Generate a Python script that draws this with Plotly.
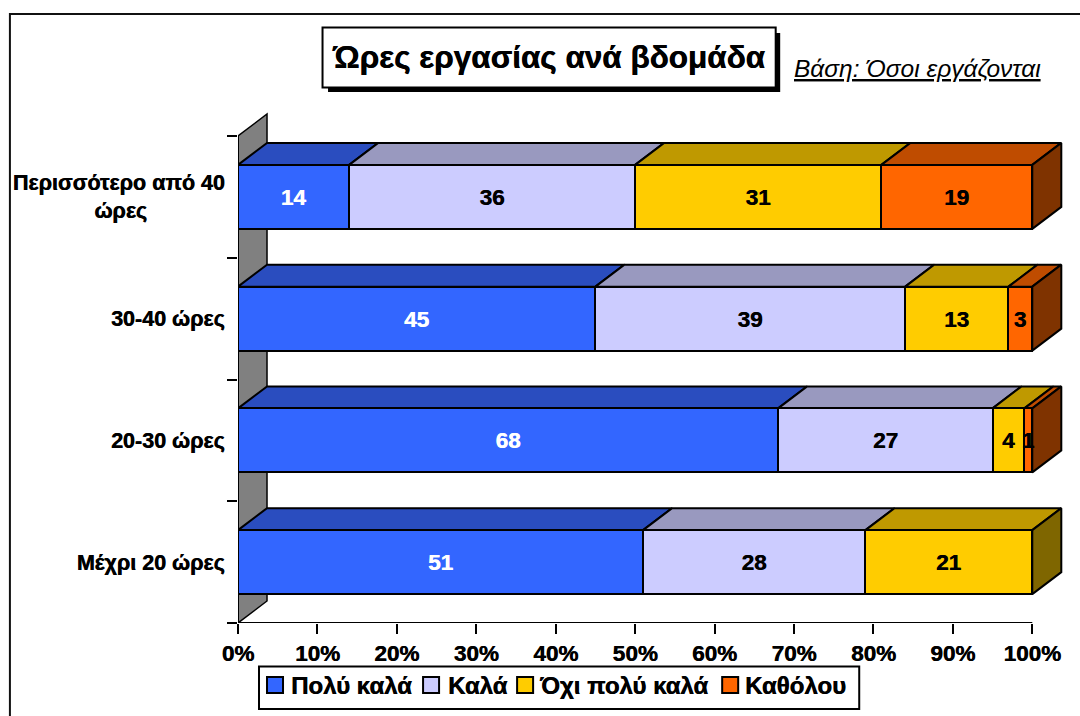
import plotly.graph_objects as go

categories = ["Μέχρι 20 ώρες", "20-30 ώρες", "30-40 ώρες", "Περισσότερο από 40<br>ώρες" + "\u00a0" * 13]
series_names = ["Πολύ καλά", "Καλά", "Όχι πολύ καλά", "Καθόλου"]
very_good = [51, 68, 45, 14]
good = [28, 27, 39, 36]
not_very_good = [21, 4, 13, 31]
not_at_all = [0, 1, 3, 19]
series_values = [very_good, good, not_very_good, not_at_all]
front_colors = ["#3366FF", "#CCCCFF", "#FFCC00", "#FF6600"]
top_colors = ["#2A4DBF", "#9999BF", "#BF9900", "#BF4C00"]
side_colors = ["#19337F", "#66667F", "#7F6600", "#7F3300"]
text_colors = ["white", "black", "black", "black"]
x_ticks = list(range(0, 101, 10))
x_labels = [f"{v}%" for v in x_ticks]

W, H = 1080, 716
PL, PR, PT, PB = 238, 1071.7, 100, 623
PX_PER_PCT = 7.94
PX_PER_CAT = 121.75
DX = 29 / PX_PER_PCT
DY = 22 / PX_PER_CAT
BAR_W = 64 / PX_PER_CAT
XMAX = (PR - PL) / PX_PER_PCT
YMAX = (PB - PT) / PX_PER_CAT
FONT = "Liberation Sans, Arial, sans-serif"
HEAVY = "0.5px 0 0 #000"
HEAVY_WHITE = "0.5px 0 0 #fff"
LEGEND_SWATCH_LEFT = [267, 423, 517, 722]
LEGEND_TEXT_LEFT = [289, 446, 537, 743]


def fx(px):
    return (px - PL) / (PR - PL)


def fy(py):
    return (PB - py) / (PB - PT)


centers = [i + 0.5 for i in range(len(categories))]
fig = go.Figure()

# stacked front faces
for s, vals in enumerate(series_values):
    fig.add_trace(go.Bar(
        y=centers, x=vals, orientation="h", width=BAR_W, name=series_names[s],
        marker=dict(color=front_colors[s], line=dict(color="black", width=2)),
        text=[str(v) if v else "" for v in vals], textposition="inside",
        insidetextanchor="middle", textangle=0, constraintext="none",
        textfont=dict(family=FONT, size=22.5, color=text_colors[s], weight="bold",
                      shadow=HEAVY_WHITE if text_colors[s] == "white" else HEAVY),
        showlegend=False, hoverinfo="skip", zorder=2,
    ))

# top and end faces derived from the same values
running = [0] * len(categories)
for s, vals in enumerate(series_values):
    tx, ty, ex, ey = [], [], [], []
    for c, v in enumerate(vals):
        start, end = running[c], running[c] + v
        running[c] = end
        if v == 0:
            continue
        yt = centers[c] + BAR_W / 2
        yb = centers[c] - BAR_W / 2
        tx += [start, end, end + DX, start + DX, start, None]
        ty += [yt, yt, yt + DY, yt + DY, yt, None]
        if s == len(series_values) - 1 or all(series_values[k][c] == 0 for k in range(s + 1, len(series_values))):
            ex += [end, end + DX, end + DX, end, end, None]
            ey += [yt, yt + DY, yb + DY, yb, yt, None]
    fig.add_trace(go.Scatter(x=tx, y=ty, mode="lines", fill="toself", fillcolor=top_colors[s],
                             line=dict(color="black", width=2), showlegend=False, hoverinfo="skip",
                             cliponaxis=False, zorder=1))
    if ex:
        fig.add_trace(go.Scatter(x=ex, y=ey, mode="lines", fill="toself", fillcolor=side_colors[s],
                                 line=dict(color="black", width=2), showlegend=False, hoverinfo="skip",
                                 cliponaxis=False, zorder=1))

shapes = [
    # left wall
    dict(type="path", xref="x", yref="y", layer="below",
         path=f"M0,0 L{DX},{DY} L{DX},{len(categories)+DY} L0,{len(categories)} Z",
         fillcolor="#808080", line=dict(color="black", width=1.5)),
    # axis lines
    dict(type="line", xref="x", yref="y", x0=0, x1=0, y0=0, y1=len(categories), line=dict(color="black", width=2)),
    dict(type="line", xref="x", yref="y", x0=0, x1=100, y0=0, y1=0, line=dict(color="black", width=2)),
    # chart frame (left and top edges)
    dict(type="path", xref="paper", yref="paper",
         path=f"M{fx(10)},{fy(716)} L{fx(10)},{fy(14)} L{fx(1080)},{fy(14)}",
         line=dict(color="#111111", width=2)),
    # title shadow and box
    dict(type="rect", xref="paper", yref="paper", x0=fx(328), x1=fx(780), y0=fy(92), y1=fy(33),
         fillcolor="black", line=dict(width=0)),
    dict(type="rect", xref="paper", yref="paper", x0=fx(322.5), x1=fx(775.5), y0=fy(87.5), y1=fy(27.5),
         fillcolor="white", line=dict(color="black", width=2)),
    # legend frame
    dict(type="rect", xref="paper", yref="paper", x0=fx(259), x1=fx(859), y0=fy(709), y1=fy(666.5),
         fillcolor="white", line=dict(color="black", width=2)),
]

annotations = [dict(text="<i><u>Βάση: Όσοι εργάζονται</u></i>", xref="paper", yref="paper",
                    x=fx(917), y=fy(68), showarrow=False, xanchor="center", yanchor="middle",
                    font=dict(family=FONT, size=24.5, color="black"))]

for s, name in enumerate(series_names):
    left = LEGEND_SWATCH_LEFT[s]
    shapes.append(dict(type="rect", xref="paper", yref="paper", x0=fx(left), x1=fx(left + 16),
                       y0=fy(693), y1=fy(677), fillcolor=front_colors[s], line=dict(color="black", width=2)))
    annotations.append(dict(text=f"<b>{name}</b>", xref="paper", yref="paper", x=fx(LEGEND_TEXT_LEFT[s]), y=fy(685),
                            showarrow=False, xanchor="left", yanchor="middle",
                            font=dict(family=FONT, size=24, color="black", shadow=HEAVY)))

fig.update_layout(
    width=W, height=H, autosize=False, showlegend=False,
    paper_bgcolor="white", plot_bgcolor="white",
    margin=dict(l=PL, r=W - PR, t=PT, b=H - PB, pad=0),
    barmode="stack", bargap=0,
    font=dict(family=FONT, color="black"),
    title=dict(text="<b>Ώρες εργασίας ανά βδομάδα</b>", x=549 / W, xanchor="center", xref="container",
               y=1 - 57 / H, yanchor="middle", yref="container",
               font=dict(family=FONT, size=31.5, color="black", shadow=HEAVY)),
    xaxis=dict(range=[0, XMAX], tickvals=x_ticks, ticktext=x_labels, ticks="outside", ticklen=10, tickwidth=2,
               tickcolor="black", showgrid=False, zeroline=False, showline=False,
               tickfont=dict(family=FONT, size=22.5, color="black", weight="bold", shadow=HEAVY)),
    yaxis=dict(range=[0, YMAX], tickvals=centers, ticktext=categories, ticks="outside", ticklen=8,
               tickcolor="rgba(0,0,0,0)", showgrid=False, zeroline=False, showline=False,
               tickfont=dict(family=FONT, size=21.5, color="black", weight="bold", shadow=HEAVY),
               minor=dict(tickvals=list(range(len(categories) + 1)), ticks="outside", ticklen=10,
                          tickwidth=2, tickcolor="black", showgrid=False)),
    shapes=shapes,
    annotations=annotations,
)

fig.write_html("out.html", post_script="document.body.style.margin='0';document.body.style.overflow='hidden';",
               config={"displayModeBar": False})
